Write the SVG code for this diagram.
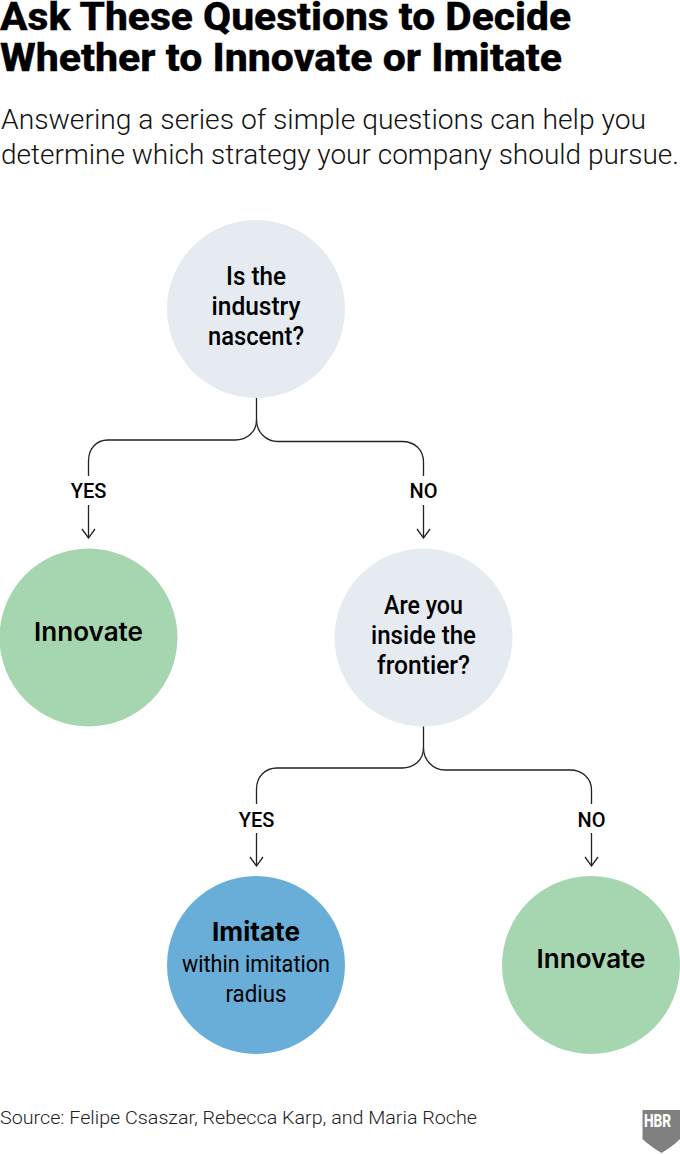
<svg xmlns="http://www.w3.org/2000/svg" width="680" height="1154" viewBox="0 0 680 1154">
<style>
text{fill:#000}
.title{font-family:Roboto,"Liberation Sans",sans-serif;font-size:38px;font-weight:800;stroke:#000;stroke-width:.3}
.sub{font-family:Roboto,"Liberation Sans",sans-serif;font-size:28px;font-weight:300;fill:#111}
.q{font-family:Roboto,"Liberation Sans",sans-serif;font-size:25px;font-weight:500;text-anchor:middle}
.big{font-family:Inter,"Liberation Sans",sans-serif;font-size:26px;font-weight:600;text-anchor:middle}
.strong{font-weight:700}
.lab{font-family:Roboto,"Liberation Sans",sans-serif;font-size:20px;font-weight:500;text-anchor:middle}
.small{font-family:Roboto,"Liberation Sans",sans-serif;font-size:24px;font-weight:400;text-anchor:middle}
.src{font-family:Roboto,"Liberation Sans",sans-serif;font-size:18px;font-weight:300;fill:#222}
.c{fill:none;stroke:#222;stroke-width:1.3}
.gray{fill:#e6ebf2}.green{fill:#a5d6b0}.blue{fill:#68aed8}
</style>
<defs><path id="h" d="M-6.500 -10L0 -1 6.500 -10" fill="none" stroke="#222" stroke-width="1.300"/></defs>
<g id="header">
<text class="title" x="0" y="29.500" textLength="571" lengthAdjust="spacingAndGlyphs">Ask These Questions to Decide</text>
<text class="title" x="0" y="71" textLength="562" lengthAdjust="spacingAndGlyphs">Whether to Innovate or Imitate</text>
<text class="sub" x="1" y="129" textLength="645" lengthAdjust="spacingAndGlyphs">Answering a series of simple questions can help you</text>
<text class="sub" x="1" y="164" textLength="678" lengthAdjust="spacingAndGlyphs">determine which strategy your company should pursue.</text>
</g>
<g id="connectors">
<path class="c" d="M256.500 397V420C256.500 432 247 440 235 440H108C96 440 88.500 449 88.500 461V476"/>
<path class="c" d="M256.500 420C256.500 432 266 441.500 278 441.500H402C415 441.500 423.500 450 423.500 462V476"/>
<path class="c" d="M88.500 505V538"/><use href="#h" x="88.500" y="539"/>
<path class="c" d="M423.500 505V538"/><use href="#h" x="423.500" y="539"/>
<path class="c" d="M423.500 725V748C423.500 760 414 768 402 768H277C265 768 256.500 777 256.500 789V804"/>
<path class="c" d="M423.500 748C423.500 760 433 770 445 770H570C582 770 591.500 778 591.500 790V804"/>
<path class="c" d="M256.500 833V866"/><use href="#h" x="256.500" y="867"/>
<path class="c" d="M591.500 833V866"/><use href="#h" x="591.500" y="867"/>
</g>
<g id="label-yes-1"><text class="lab" x="88.500" y="498">YES</text></g>
<g id="label-no-1"><text class="lab" x="423.500" y="498">NO</text></g>
<g id="label-yes-2"><text class="lab" x="256.500" y="827">YES</text></g>
<g id="label-no-2"><text class="lab" x="591.500" y="827">NO</text></g>
<g id="node-nascent"><circle class="gray" cx="256" cy="309" r="89"/>
<text class="q" x="256" y="285" textLength="60" lengthAdjust="spacingAndGlyphs">Is the</text><text class="q" x="256" y="315" textLength="89" lengthAdjust="spacingAndGlyphs">industry</text><text class="q" x="256" y="345" textLength="96" lengthAdjust="spacingAndGlyphs">nascent?</text></g>
<g id="node-innovate-1"><circle class="green" cx="88.500" cy="637.500" r="89"/><text class="big" x="88.500" y="641" textLength="109" lengthAdjust="spacingAndGlyphs">Innovate</text></g>
<g id="node-frontier"><circle class="gray" cx="423.500" cy="637.500" r="89"/>
<text class="q" x="423.500" y="614" textLength="79" lengthAdjust="spacingAndGlyphs">Are you</text><text class="q" x="423.500" y="644" textLength="105" lengthAdjust="spacingAndGlyphs">inside the</text><text class="q" x="423.500" y="674" textLength="93" lengthAdjust="spacingAndGlyphs">frontier?</text></g>
<g id="node-imitate"><circle class="blue" cx="256" cy="965" r="89"/>
<text class="big strong" x="256" y="941" textLength="88" lengthAdjust="spacingAndGlyphs">Imitate</text><text class="small" x="256" y="972" textLength="148" lengthAdjust="spacingAndGlyphs">within imitation</text><text class="small" x="256" y="1002" textLength="61" lengthAdjust="spacingAndGlyphs">radius</text></g>
<g id="node-innovate-2"><circle class="green" cx="591" cy="965" r="89"/><text class="big" x="591" y="968" textLength="109" lengthAdjust="spacingAndGlyphs">Innovate</text></g>
<g id="footer">
<text class="src" x="0" y="1124" textLength="477" lengthAdjust="spacingAndGlyphs">Source: Felipe Csaszar, Rebecca Karp, and Maria Roche</text>
<path d="M642.500 1110H680V1139C674 1145 668 1149 661.500 1153C655 1149 649 1145 642.500 1139Z" fill="#808080"/>
<text transform="translate(657.500 1127) scale(.72 1)" text-anchor="middle" style="font-family:Roboto,sans-serif;font-size:19px;font-weight:800;fill:#fff">HBR</text>
</g>
</svg>
